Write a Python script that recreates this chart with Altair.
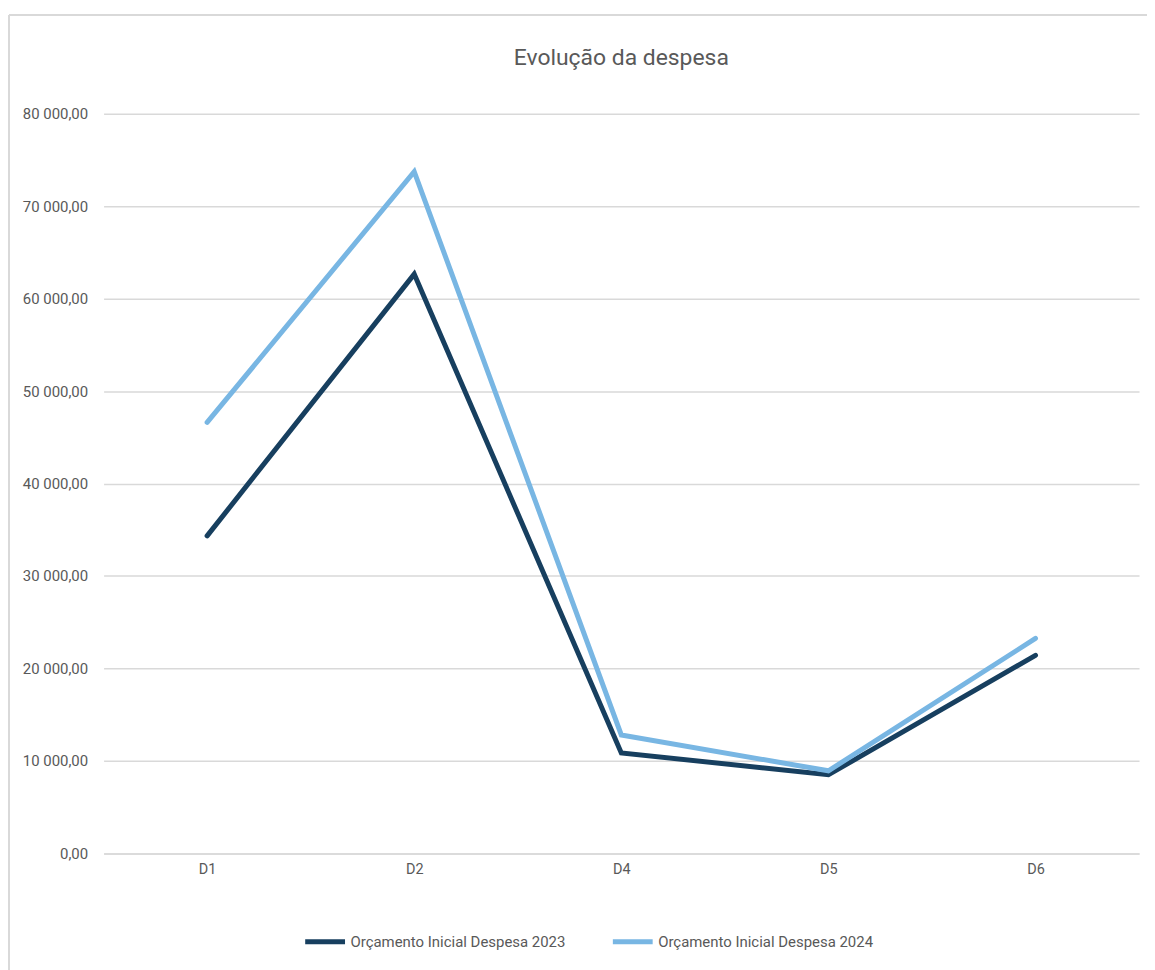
import altair as alt
import pandas as pd

categories = ["D1", "D2", "D4", "D5", "D6"]
series_2023 = [34340, 62650, 10870, 8500, 21420]
series_2024 = [46610, 73730, 12810, 8930, 23250]
series_names = ["Orçamento Inicial  Despesa 2023", "Orçamento Inicial  Despesa 2024"]
colors = ["#173f5f", "#78b6e3"]

rows = []
for name, vals in zip(series_names, [series_2023, series_2024]):
    for c, v in zip(categories, vals):
        rows.append({"cat": c, "value": v, "serie": name})
df = pd.DataFrame(rows)

FONT = "Roboto"
GRAY = "#595959"

lines = alt.Chart(df).mark_line(strokeWidth=5, strokeJoin="miter", strokeCap="round").encode(
    x=alt.X("cat:N", sort=categories,
            scale=alt.Scale(type="point", padding=0.5),
            axis=alt.Axis(title=None, labelAngle=0, ticks=False, domain=True,
                          domainColor="#d9d9d9", domainWidth=1.5, labelPadding=9,
                          labelFontSize=14.5, labelColor=GRAY, labelFont=FONT, grid=False)),
    y=alt.Y("value:Q", scale=alt.Scale(domain=[0, 80000], nice=False),
            axis=alt.Axis(title=None, values=list(range(0, 80001, 10000)), ticks=False,
                          domain=False, gridColor="#d9d9d9", gridWidth=1.5,
                          labelPadding=16, labelFontSize=15, labelColor=GRAY, labelFont=FONT,
                          labelExpr="replace(replace(format(datum.value, ',.2f'), ',', ' '), '.', ',')")),
    color=alt.Color("serie:N", sort=series_names,
                    scale=alt.Scale(domain=series_names, range=colors),
                    legend=alt.Legend(title=None, orient="none", direction="horizontal",
                                      legendX=200, legendY=809,
                                      symbolType="stroke", symbolStrokeWidth=5, symbolSize=1600,
                                      labelOffset=3,
                                      labelFontSize=15, labelColor=GRAY, labelFont=FONT,
                                      columnPadding=33, labelLimit=400)),
)

frame_df = pd.DataFrame({"k": [0]})
frame_top = alt.Chart(frame_df).mark_rule(color="#d9d9d9", strokeWidth=2).encode(
    x=alt.value(-95), x2=alt.value(1060), y=alt.value(-99))
frame_left = alt.Chart(frame_df).mark_rule(color="#d9d9d9", strokeWidth=2).encode(
    x=alt.value(-95), y=alt.value(-99), y2=alt.value(870))

chart = alt.layer(frame_top, frame_left, lines).properties(
    width=1040,
    height=743,
    title=alt.TitleParams("Evolução da despesa", fontSize=23, font=FONT, color=GRAY,
                          fontWeight="normal", anchor="middle", offset=-56),
    autosize=alt.AutoSizeParams(type="none"),
    padding={"left": 96, "top": 104, "right": 8, "bottom": 115},
).configure_view(stroke=None)

chart.save("out.html", embed_options={"renderer": "svg", "actions": False})
